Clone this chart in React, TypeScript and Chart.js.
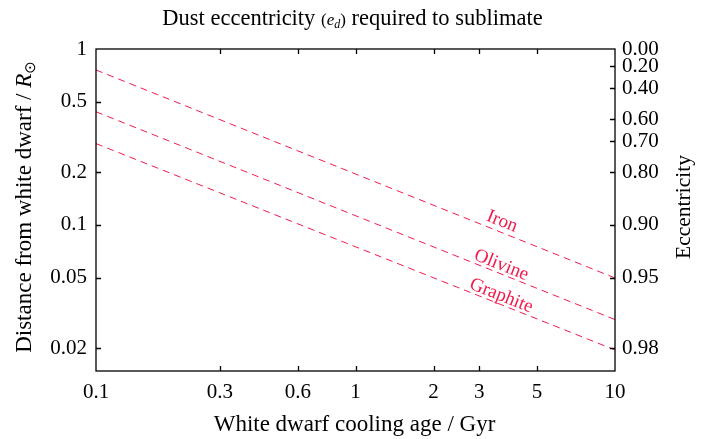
import React, { useEffect, useRef } from "react";
import { Chart, registerables } from "chart.js";

Chart.register(...registerables);

// ---- data ----
const ageGyr = [0.1, 10];
const ironDistance = [0.76, 0.05];
const olivineDistance = [0.44, 0.029];
const graphiteDistance = [0.29, 0.0195];
const seriesNames = ["Iron", "Olivine", "Graphite"];
const labelAge = 3.6;

const xTickValues = [0.1, 0.3, 0.6, 1, 2, 3, 5, 10];
const yTickValues = [1, 0.5, 0.2, 0.1, 0.05, 0.02];
const eccentricityTicks = [0.0, 0.2, 0.4, 0.6, 0.7, 0.8, 0.9, 0.95, 0.98];

const Y_MIN = 0.0148;
const Y_MAX = 1;

const RED = "rgb(243, 26, 76)";
const FONT = "'Liberation Serif', 'DejaVu Serif', serif";

const toPoints = (ys: number[]) => ageGyr.map((x, i) => ({ x, y: ys[i] }));

function drawRich(
  ctx: CanvasRenderingContext2D,
  parts: { t: string; font: string; dy?: number }[],
  cx: number,
  baseline: number
) {
  let total = 0;
  const widths = parts.map((p) => {
    ctx.font = p.font;
    const w = ctx.measureText(p.t).width;
    total += w;
    return w;
  });
  let x = cx - total / 2;
  ctx.textAlign = "left";
  ctx.textBaseline = "alphabetic";
  parts.forEach((p, i) => {
    ctx.font = p.font;
    ctx.fillText(p.t, x, baseline + (p.dy || 0));
    x += widths[i];
  });
}

const decorPlugin = {
  id: "decor",
  afterDraw(chart: any) {
    const { ctx, chartArea } = chart;
    const { left, right, top, bottom } = chartArea;
    const xs = chart.scales.x;
    const ys = chart.scales.y;
    const ys2 = chart.scales.y2;
    ctx.save();
    // frame
    ctx.strokeStyle = "#000";
    ctx.lineWidth = 1.3;
    ctx.strokeRect(left, top, right - left, bottom - top);
    // inward ticks
    const TL = 5;
    ctx.beginPath();
    xTickValues.forEach((v) => {
      const px = Math.round(xs.getPixelForValue(v)) + 0.5;
      if (px <= left + 1 || px >= right - 1) return;
      ctx.moveTo(px, bottom);
      ctx.lineTo(px, bottom - TL);
      ctx.moveTo(px, top);
      ctx.lineTo(px, top + TL);
    });
    yTickValues.forEach((v) => {
      const py = Math.round(ys.getPixelForValue(v)) + 0.5;
      if (py <= top + 1 || py >= bottom - 1) return;
      ctx.moveTo(left, py);
      ctx.lineTo(left + TL, py);
    });
    eccentricityTicks.forEach((e) => {
      const py = Math.round(ys2.getPixelForValue(1 - e)) + 0.5;
      if (py <= top + 1 || py >= bottom - 1) return;
      ctx.moveTo(right, py);
      ctx.lineTo(right - TL, py);
    });
    ctx.stroke();

    // series labels
    ctx.fillStyle = RED;
    ctx.font = `19px ${FONT}`;
    chart.data.datasets.forEach((ds: any, i: number) => {
      const p0 = ds.data[0];
      const p1 = ds.data[ds.data.length - 1];
      const x0 = xs.getPixelForValue(p0.x);
      const y0 = ys.getPixelForValue(p0.y);
      const x1 = xs.getPixelForValue(p1.x);
      const y1 = ys.getPixelForValue(p1.y);
      const lx = xs.getPixelForValue(labelAge);
      const t = (lx - x0) / (x1 - x0);
      const ly = y0 + t * (y1 - y0);
      const ang = Math.atan2(y1 - y0, x1 - x0);
      ctx.save();
      ctx.translate(lx - 2, ly);
      ctx.rotate(ang);
      ctx.textAlign = "center";
      ctx.textBaseline = "alphabetic";
      ctx.fillText(seriesNames[i], 0, i === 0 ? -6 : -4);
      ctx.restore();
    });

    // texts
    ctx.fillStyle = "#000";
    const cx = (left + right) / 2 - 3;
    drawRich(
      ctx,
      [
        { t: "Dust eccentricity ", font: `22.5px ${FONT}` },
        { t: "(", font: `17px ${FONT}` },
        { t: "e", font: `italic 17px ${FONT}` },
        { t: "d", font: `italic 12px ${FONT}`, dy: 3 },
        { t: ")", font: `17px ${FONT}` },
        { t: " required to sublimate", font: `22.5px ${FONT}` },
      ],
      cx,
      25
    );
    drawRich(
      ctx,
      [{ t: "White dwarf cooling age / Gyr", font: `23px ${FONT}` }],
      cx + 2,
      431
    );
    const cy = (top + bottom) / 2 - 3;
    ctx.save();
    ctx.translate(31, cy);
    ctx.rotate(-Math.PI / 2);
    drawRich(
      ctx,
      [
        { t: "Distance from white dwarf / ", font: `23px ${FONT}` },
        { t: "R", font: `italic 23px ${FONT}` },
        { t: "\u2299", font: `15px 'DejaVu Sans', ${FONT}`, dy: 4 },
      ],
      0,
      0
    );
    ctx.restore();
    ctx.save();
    ctx.translate(690, cy);
    ctx.rotate(-Math.PI / 2);
    drawRich(ctx, [{ t: "Eccentricity", font: `21.5px ${FONT}` }], 0, 0);
    ctx.restore();
    ctx.restore();
  },
};

export default function App() {
  const ref = useRef<HTMLCanvasElement>(null);
  useEffect(() => {
    document.body.style.margin = "0";
    const canvas = ref.current!;
    const tickFont = { family: FONT, size: 21 };
    const chart = new Chart(canvas, {
      type: "scatter",
      data: {
        datasets: [ironDistance, olivineDistance, graphiteDistance].map((d, i) => ({
          label: seriesNames[i],
          data: toPoints(d),
          showLine: true,
          borderColor: RED,
          borderWidth: 1,
          borderDash: [7, 5],
          pointRadius: 0,
          fill: false,
        })),
      },
      options: {
        animation: false,
        responsive: false,
        devicePixelRatio: 1,
        layout: { padding: { top: 49, left: 0, right: 0, bottom: 0 } },
        plugins: { legend: { display: false }, tooltip: { enabled: false }, title: { display: false } },
        scales: {
          x: {
            type: "logarithmic",
            min: 0.1,
            max: 10,
            grid: { display: false, drawTicks: false },
            border: { display: false },
            afterBuildTicks: (s: any) => {
              s.ticks = xTickValues.map((v) => ({ value: v }));
            },
            afterFit: (s: any) => {
              s.height = 68;
            },
            ticks: {
              autoSkip: false,
              maxRotation: 0,
              padding: 9,
              color: "#000",
              font: tickFont,
              callback: (v: any) => String(v),
            },
          },
          y: {
            type: "logarithmic",
            position: "left",
            min: Y_MIN,
            max: Y_MAX,
            grid: { display: false, drawTicks: false },
            border: { display: false },
            afterBuildTicks: (s: any) => {
              s.ticks = yTickValues.map((v) => ({ value: v }));
            },
            afterFit: (s: any) => {
              s.width = 96;
            },
            ticks: {
              autoSkip: false,
              padding: 9,
              color: "#000",
              font: tickFont,
              callback: (v: any) => String(v),
            },
          },
          y2: {
            type: "logarithmic",
            position: "right",
            min: Y_MIN,
            max: Y_MAX,
            grid: { display: false, drawTicks: false },
            border: { display: false },
            afterBuildTicks: (s: any) => {
              s.ticks = eccentricityTicks.map((e) => ({ value: 1 - e }));
            },
            afterFit: (s: any) => {
              s.width = 703 - 615;
            },
            ticks: {
              autoSkip: false,
              padding: 7,
              color: "#000",
              font: tickFont,
              callback: (v: any) => (1 - Number(v)).toFixed(2),
            },
          },
        },
      } as any,
      plugins: [decorPlugin],
    });
    return () => chart.destroy();
  }, []);
  return <canvas ref={ref} width={703} height={439} style={{ display: "block" }} />;
}
